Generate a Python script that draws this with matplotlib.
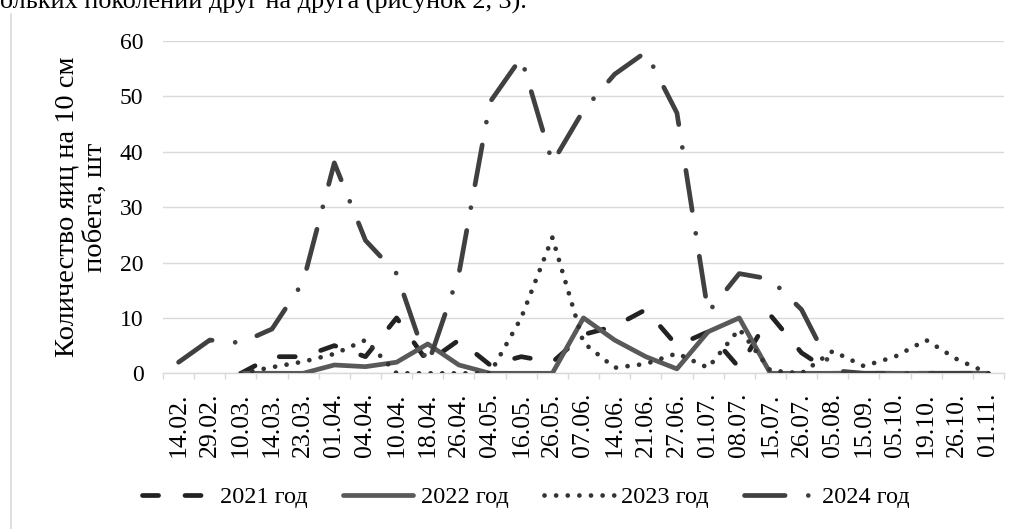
import numpy as np
import matplotlib
matplotlib.use("Agg")
import matplotlib.pyplot as plt
from matplotlib.lines import Line2D

plt.rcParams['font.family'] = ['Liberation Serif', 'DejaVu Serif']

# Sampling dates (x-axis categories)
dates = ['14.02.', '29.02.', '10.03.', '14.03.', '23.03.', '01.04.', '04.04.',
         '10.04.', '18.04.', '26.04.', '04.05.', '16.05.', '26.05.', '07.06.',
         '14.06.', '21.06.', '27.06.', '01.07.', '08.07.', '15.07.', '26.07.',
         '05.08.', '15.09.', '05.10.', '19.10.', '26.10.', '01.11.']

nan = np.nan
# Eggs per 10 cm of shoot, pcs
eggs_2021 = [nan, nan, 0, 3, 3, 5, 3, 10, 2, 6, 1.5, 3, 2, 7, 8.5, 11.5, 5, 7.5,
             1, 10.5, 3.7, 0, 0, 0, 0, 0, 0]
eggs_2022 = [nan, nan, 0, 0, 0, 1.5, 1.2, 2, 5.3, 1.5, 0, 0, 0, 10, 6, 3, 0.8,
             7.5, 10, 0, 0, 0, 0, 0, 0, 0, 0]
eggs_2023 = [nan, nan, 0, 1.1, 2.1, 3.5, 6, 0, 0, 0, 0, 10, 24.5, 5.5, 1, 1.7,
             3.6, 1, 8, 0.5, 0, 4, 1.3, 3, 6, 2.5, 0]
eggs_2024 = [2, 6, 5.5, 8, 16.5, 38, 24, 18, 1.5, 18, 49, 57, 38, 47.5, 54, 58,
             47, 11, 18, 17, 11.5, 0.5, 0, 0, 0, 0, 0]

series_labels = ['2021 год', '2022 год', '2023 год', '2024 год']

W, H = 1019, 529
fig = plt.figure(figsize=(W / 100, H / 100), dpi=100)
fig.patch.set_facecolor('white')

ax = fig.add_axes([163 / W, 1 - 373.3 / H, (1004 - 163) / W, (373.3 - 41) / H])

x = np.arange(len(dates))
lw = 3.4
styles = [
    dict(color='#222222', dashes=(3.4, 5.6), zorder=3),
    dict(color='#595959', linestyle='-', zorder=4),
    dict(color='#333333', dashes=(0.01, 2.45), zorder=5),
    dict(color='#404040', dashes=(8.6, 4.9, 0.01, 4.9), zorder=6),
]
data = [eggs_2021, eggs_2022, eggs_2023, eggs_2024]

handles = []
for vals, st, lab in zip(data, styles, series_labels):
    ln, = ax.plot(x, vals, lw=lw, solid_capstyle='round', dash_capstyle='round',
                  solid_joinstyle='round', dash_joinstyle='round', label=lab, **st)
    handles.append(ln)

ax.set_xlim(-0.5, len(dates) - 0.5)
ax.set_ylim(0, 60)
ax.set_yticks(range(0, 61, 10))
ax.yaxis.grid(True, color='#d9d9d9', lw=1.0)
ax.set_axisbelow(True)
for s in ['top', 'right', 'left']:
    ax.spines[s].set_visible(False)
ax.spines['bottom'].set_color('#d9d9d9')
ax.spines['bottom'].set_linewidth(1.0)

ax.set_xticks(x)
ax.set_xticklabels(dates, rotation=90, fontsize=18.5)
ax.set_xticks(np.arange(-0.5, len(dates), 1.0), minor=True)
ax.tick_params(axis='x', which='major', length=0, pad=14)
ax.tick_params(axis='x', which='minor', length=4, color='#d9d9d9', width=1.0)
ax.tick_params(axis='y', length=0, pad=14, labelsize=17)

fig.text(81 / W, 1 - 207 / H, 'Количество яиц на 10 см\nпобега, шт', rotation=90,
         ha='center', va='center', fontsize=20.5, multialignment='center',
         linespacing=1.15)

leg = fig.legend(handles, series_labels, loc='center',
                 bbox_to_anchor=(526 / W, 1 - 497 / H), ncol=4, frameon=False,
                 fontsize=17.5, handlelength=2.9, handletextpad=0.3,
                 columnspacing=1.45)

# Chart area left border
fig.add_artist(Line2D([10.5 / W, 10.5 / W], [0, 1 - 14 / H], color='#d9d9d9',
                      lw=1.2, transform=fig.transFigure))

# Preceding body text line
fig.text(0, 1 - 9 / H, 'ольких поколений друг на друга (рисунок 2, 3).',
         ha='left', va='baseline', fontsize=18.8)

fig.savefig('out.png', dpi=100, facecolor='white')
